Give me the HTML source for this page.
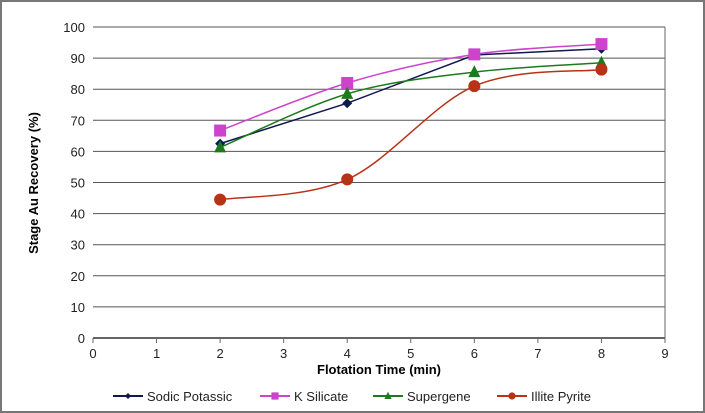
<!DOCTYPE html>
<html><head><meta charset="utf-8"><style>
body{margin:0;background:#fff}
svg{display:block;font-family:"Liberation Sans",Arial,sans-serif}
</style></head><body>
<svg id="c" width="705" height="413">
<rect x="1" y="1" width="703" height="411" fill="#fff" stroke="#777" stroke-width="2"/>
<g id="grid"></g><g id="series"></g><g id="axes"></g>
<text x="0" y="0" transform="translate(38,183) rotate(-90)" text-anchor="middle" font-size="13" font-weight="bold">Stage Au Recovery (%)</text>
<text x="379" y="374" text-anchor="middle" font-size="13" font-weight="bold">Flotation Time (min)</text>
<g id="legend"></g>
</svg>
<script>
const xTicks=[0,1,2,3,4,5,6,7,8,9];
const yTicks=[0,10,20,30,40,50,60,70,80,90,100];
const times=[2,4,6,8];
const sodic=[62.5,75.5,91,93];
const kSilicate=[66.7,82,91.2,94.5];
const supergene=[61.3,78.5,85.5,88.5];
const illite=[44.5,51,81,86.3];
const seriesNames=["Sodic Potassic","K Silicate","Supergene","Illite Pyrite"];
const NS="http://www.w3.org/2000/svg";
const X=v=>93+v*(665-93)/9, Y=v=>338-v*(338-27)/100;
function mk(t,a,p){const e=document.createElementNS(NS,t);for(const k in a)e.setAttribute(k,a[k]);p.appendChild(e);return e;}
const grid=document.getElementById('grid'),axes=document.getElementById('axes'),ser=document.getElementById('series'),leg=document.getElementById('legend');
yTicks.forEach(v=>{
 if(v>0){const l=mk('line',{x1:X(0),x2:X(9),y1:Y(v),y2:Y(v),stroke:'#555','stroke-width':1},grid);
 }
 const t=mk('text',{x:X(0)-8,y:Y(v)+5,'text-anchor':'end','font-size':13,fill:'#222'},axes);t.textContent=v;
 
});
mk('line',{x1:X(9),x2:X(9),y1:Y(100),y2:Y(0),stroke:'#666','stroke-width':1},grid);
const ax=mk('line',{x1:X(0),x2:X(9),y1:Y(0),y2:Y(0),stroke:'#666','stroke-width':2},axes);

xTicks.forEach(v=>{
 mk('line',{x1:X(v),x2:X(v),y1:Y(0),y2:Y(0)+5,stroke:'#666'},axes);
 const t=mk('text',{x:X(v),y:Y(0)+20,'text-anchor':'middle','font-size':13,fill:'#222'},axes);t.textContent=v;
 
});
function smooth(pts){let d=`M${pts[0][0]},${pts[0][1]}`;for(let i=0;i<pts.length-1;i++){const p0=pts[i-1]||pts[i],p1=pts[i],p2=pts[i+1],p3=pts[i+2]||p2,k=1/6;
 d+=` C${p1[0]+(p2[0]-p0[0])*k},${p1[1]+(p2[1]-p0[1])*k} ${p2[0]-(p3[0]-p1[0])*k},${p2[1]-(p3[1]-p1[1])*k} ${p2[0]},${p2[1]}`;}return d;}
function marker(type,x,y,c,p){
 if(type==='d')return mk('path',{d:`M${x},${y-5}L${x+5},${y}L${x},${y+5}L${x-5},${y}Z`,fill:c},p);
 if(type==='s')return mk('rect',{x:x-6,y:y-6,width:12,height:12,fill:c},p);
 if(type==='t')return mk('path',{d:`M${x},${y-7}L${x+6},${y+5}L${x-6},${y+5}Z`,fill:c},p);
 return mk('circle',{cx:x,cy:y,r:6,fill:c},p);
}
const defs=[[sodic,'#101850','d',false],[kSilicate,'#cc44cc','s',true],[supergene,'#1e7a1e','t',true],[illite,'#b83218','c',true]];
defs.forEach(([vals,c,m,sm],i)=>{
 const g=mk('g',{},ser);
 const pts=times.map((t,j)=>[X(t),Y(vals[j])]);
 const p=mk('path',{d:sm?smooth(pts):'M'+pts.map(q=>q.join(',')).join('L'),fill:'none',stroke:c,'stroke-width':1.5},g);
 
 pts.forEach(q=>{const e=marker(m,q[0],q[1],c,g);});
});
const lx=[113,260,373,497];
defs.forEach(([v,c,m],i)=>{
 const g=mk('g',{},leg);
 mk('line',{x1:lx[i],x2:lx[i]+30,y1:396,y2:396,stroke:c,'stroke-width':2},g);
 const mm=marker(m,lx[i]+15,396,c,g);mm.setAttribute('transform',`translate(${lx[i]+15},396) scale(0.6) translate(${-(lx[i]+15)},-396)`);
 const t=mk('text',{x:lx[i]+34,y:401,'font-size':13,fill:'#222'},g);t.textContent=seriesNames[i];
});
</script>
</body></html>
